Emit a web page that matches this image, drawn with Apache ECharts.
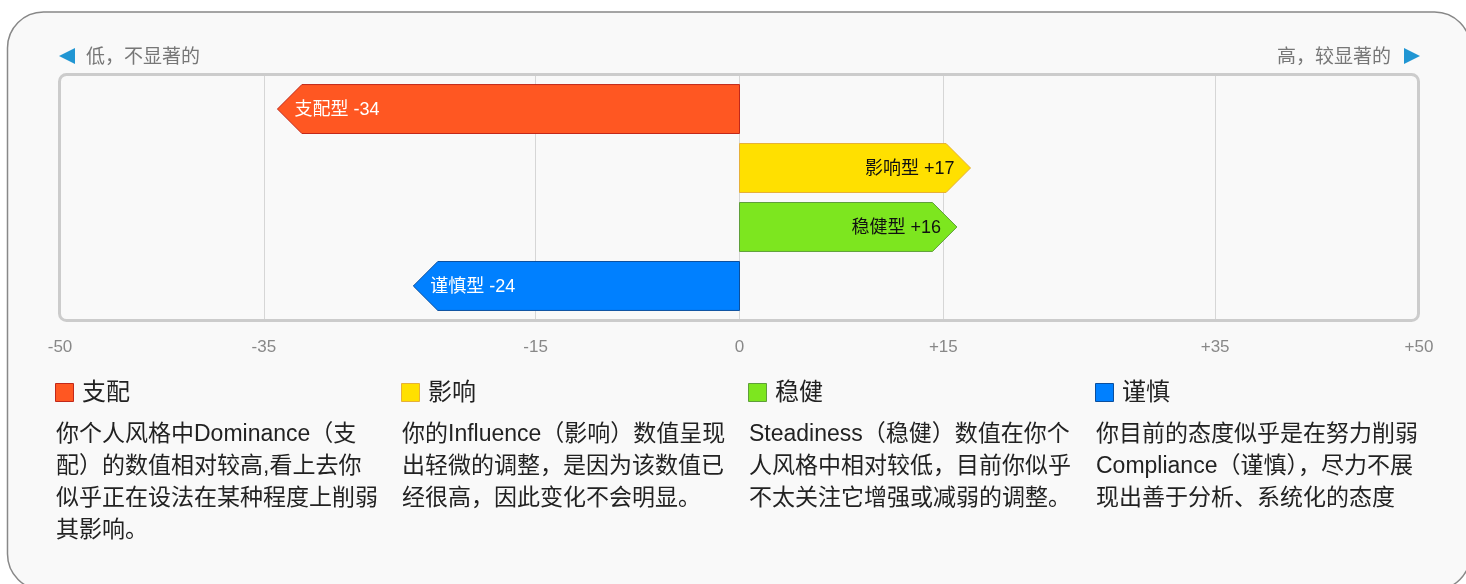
<!DOCTYPE html>
<html>
<head>
<meta charset="utf-8">
<script src="https://cdn.jsdelivr.net/npm/echarts@6/dist/echarts.min.js"></script>
<style>
  html, body { margin: 0; padding: 0; background: #fff; }
  #discChart { width: 1466px; height: 584px; }
</style>
</head>
<body>
<div id="discChart"></div>
<script>
// chart data
const categories = ['支配型', '影响型', '稳健型', '谨慎型'];
const scores = [-34, 17, 16, -24];
const tickLabels = [-50, -35, -15, 0, 15, 35, 50];
const gridValues = [-35, -15, 0, 15, 35];
const legendTitles = ['支配', '影响', '稳健', '谨慎'];
const legendTexts = [
  '你个人风格中Dominance（支\n配）的数值相对较高,看上去你\n似乎正在设法在某种程度上削弱\n其影响。',
  '你的Influence（影响）数值呈现\n出轻微的调整，是因为该数值已\n经很高，因此变化不会明显。',
  'Steadiness（稳健）数值在你个\n人风格中相对较低，目前你似乎\n不太关注它增强或减弱的调整。',
  '你目前的态度似乎是在努力削弱\nCompliance（谨慎），尽力不展\n现出善于分析、系统化的态度'
];
const lowLabel = '低，不显著的';
const highLabel = '高，较显著的';

const fills = ['#ff5722', '#ffe000', '#7de61f', '#0080ff'];
const strokes = ['#c2281a', '#e6b038', '#5f9f3a', '#0b4f9e'];
const font = "'Liberation Sans', Arial, 'Noto Sans CJK SC', sans-serif";

const fmt = v => (v > 0 ? '+' + v : String(v));

const legendX = [55, 401, 748, 1095];
const legendGraphics = [];
legendTitles.forEach((t, i) => {
  legendGraphics.push({
    type: 'rect', z: 1,
    shape: { x: legendX[i] + 0.5, y: 383.5, width: 18, height: 18 },
    style: { fill: fills[i], stroke: strokes[i], lineWidth: 1 }
  });
  legendGraphics.push({
    type: 'text', z: 1, x: legendX[i] + 27, y: 393,
    style: { text: t, fill: '#222', font: '24px ' + font, verticalAlign: 'middle' }
  });
  legendGraphics.push({
    type: 'text', z: 1, x: legendX[i] + 1, y: 419,
    style: { text: legendTexts[i], fill: '#222', font: '23px ' + font, lineHeight: 32, verticalAlign: 'top' }
  });
});

const chart = echarts.init(document.getElementById('discChart'));
chart.setOption({
  animation: false,
  backgroundColor: '#fff',
  grid: { left: 60, right: 47, top: 76, bottom: 265 },
  xAxis: {
    type: 'value', min: -50, max: 50, interval: 5,
    axisLine: { show: false }, axisTick: { show: false }, splitLine: { show: false },
    axisLabel: {
      margin: 20, color: '#888', fontSize: 17, fontFamily: font,
      formatter: v => (tickLabels.indexOf(v) >= 0 ? fmt(v) : '')
    }
  },
  yAxis: { type: 'value', min: -0.56, max: 3.56, inverse: true, show: false },
  graphic: [
    {
      type: 'rect', z: 0,
      shape: { x: 7.5, y: 12, width: 1463, height: 578, r: 36 },
      style: { fill: '#f9f9f9', stroke: '#888', lineWidth: 1.5 }
    },
    {
      type: 'rect', z: 10,
      shape: { x: 59.5, y: 74.5, width: 1359, height: 246, r: 7 },
      style: { fill: 'none', stroke: '#cccccc', lineWidth: 3 }
    },
    {
      type: 'polygon', z: 1,
      shape: { points: [[59, 56], [75, 48], [75, 64]] },
      style: { fill: '#2196d3' }
    },
    {
      type: 'text', z: 1, x: 86, y: 58,
      style: { text: lowLabel, fill: '#777', font: '19px ' + font, verticalAlign: 'middle' }
    },
    {
      type: 'polygon', z: 1,
      shape: { points: [[1420, 56], [1404, 48], [1404, 64]] },
      style: { fill: '#2196d3' }
    },
    {
      type: 'text', z: 1, x: 1391, y: 58,
      style: { text: highLabel, fill: '#777', font: '19px ' + font, align: 'right', verticalAlign: 'middle' }
    }
  ].concat(legendGraphics),
  series: [{
    type: 'custom',
    z: 5,
    data: scores.map((v, i) => [v, i]),
    renderItem: (params, api) => {
      const v = api.value(0);
      const idx = api.value(1);
      const start = api.coord([0, idx]);
      const end = api.coord([v, idx]);
      const h = api.size([0, 0.83])[1];
      const d = h / 2;
      const dir = v < 0 ? -1 : 1;
      const neck = end[0] - dir * d;
      const top = start[1] - h / 2, bot = start[1] + h / 2;
      return {
        type: 'group',
        children: [
          {
            type: 'polygon',
            shape: { points: [[start[0], top], [neck, top], [end[0], start[1]], [neck, bot], [start[0], bot]] },
            style: { fill: fills[idx], stroke: strokes[idx], lineWidth: 1 }
          },
          {
            type: 'text',
            x: v < 0 ? end[0] + 17 : end[0] - 16,
            y: start[1] + 1,
            style: {
              text: categories[idx] + ' ' + fmt(v),
              fill: v < 0 ? '#fff' : '#111',
              font: '18px ' + font,
              align: v < 0 ? 'left' : 'right',
              verticalAlign: 'middle'
            }
          }
        ]
      };
    },
    markLine: {
      silent: true,
      symbol: ['none', 'none'],
      label: { show: false },
      lineStyle: { color: '#d6d6d6', width: 1, type: 'solid' },
      data: gridValues.map(v => ({ xAxis: v }))
    }
  }]
});
</script>
</body>
</html>
